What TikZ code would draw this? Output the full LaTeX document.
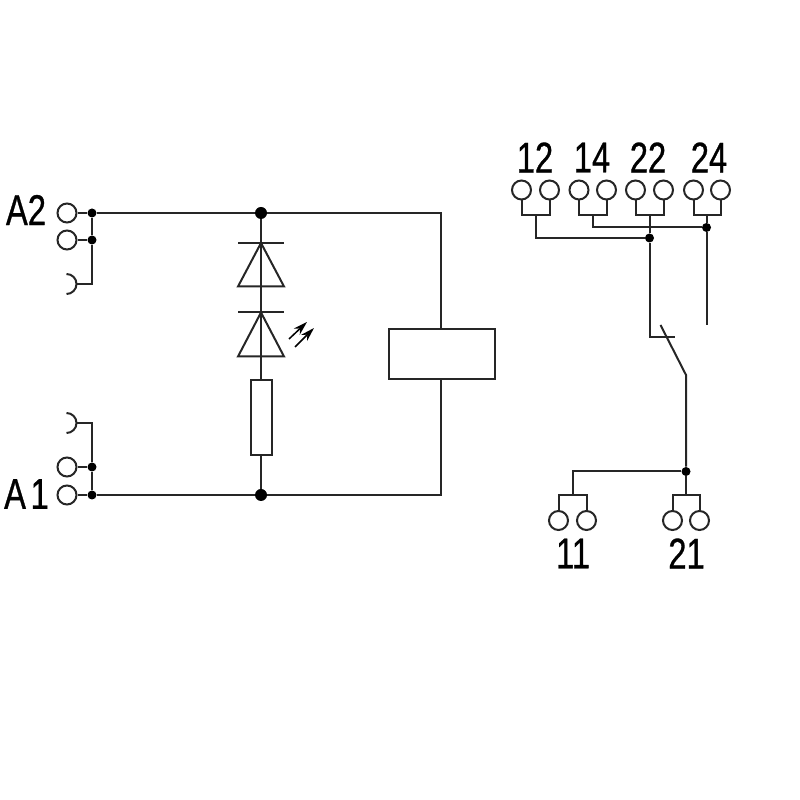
\documentclass[tikz,border=0pt]{standalone}
\usepackage{fontspec}
\setmainfont[FakeStretch=0.76,FakeBold=0.7]{Liberation Sans}
\usetikzlibrary{arrows.meta}
\tikzset{
  wire/.style={line width=0.04cm, black!85},
  terminal/.style={draw, circle, line width=0.04cm, black!85, minimum size=0.38cm, inner sep=0pt},
  dot/.style={circle, fill=black, minimum size=0.18cm, inner sep=0pt},
  bigdot/.style={circle, fill=black, minimum size=0.24cm, inner sep=0pt},
  part/.style={draw, rectangle, line width=0.04cm, black!85, inner sep=0pt},
  pinlabel/.style={font=\fontsize{24.5}{26}\selectfont, inner sep=0pt},
  lightarrow/.style={line width=0.03cm, black, -{Stealth[length=0.28cm, width=0.17cm]}}
}
\begin{document}
\begin{tikzpicture}
\useasboundingbox (0,0) rectangle (16,16);

% Coil side labels
\node[pinlabel] (labA2) at (0.52,11.8) {A2};
\node[pinlabel] (labA1) at (0.53,6.12) {A\hspace{-2.5pt} 1};

% Coil side terminals
\node[terminal] (a2top) at (1.34,11.74) {};
\node[terminal] (a2low) at (1.34,11.2) {};
\node[terminal] (a1top) at (1.34,6.66) {};
\node[terminal] (a1low) at (1.34,6.1) {};
\coordinate (hookA2) at (1.53,10.32);
\coordinate (hookA1) at (1.53,7.54);
\draw[wire] (1.33,10.52) arc (90:-90:0.2);
\draw[wire] (1.33,7.74) arc (90:-90:0.2);

% Junctions
\node[dot] (jA2top) at (1.84,11.74) {};
\node[dot] (jA2low) at (1.84,11.2) {};
\node[dot] (jA1top) at (1.84,6.66) {};
\node[dot] (jA1low) at (1.84,6.1) {};
\node[bigdot] (jTop) at (5.22,11.74) {};
\node[bigdot] (jBot) at (5.22,6.1) {};
\coordinate (cornerTop) at (8.82,11.74);
\coordinate (cornerBot) at (8.82,6.1);

% Coil and resistor
\node[part, minimum width=2.12cm, minimum height=1cm] (coil) at (8.84,8.92) {};
\node[part, minimum width=0.42cm, minimum height=1.5cm] (res) at (5.22,7.65) {};

% Connections
\draw[wire] (a2top) -- (jA2top);
\draw[wire] (a2low) -- (jA2low);
\draw[wire] (a1top) -- (jA1top);
\draw[wire] (a1low) -- (jA1low);
\draw[wire] (jA2top) -- (jTop) -- (cornerTop) -- (coil.north -| cornerTop);
\draw[wire] (jA1low) -- (jBot) -- (cornerBot) -- (coil.south -| cornerBot);
\draw[wire] (jA2top) -- (jA2low) |- (hookA2);
\draw[wire] (jA1low) -- (jA1top) |- (hookA1);
\draw[wire] (jTop) -- (res.north);
\draw[wire] (res.south) -- (jBot);

% Diodes
\draw[wire] (4.76,11.14) -- (5.68,11.14);
\draw[wire] (5.22,11.14) -- (5.68,10.27) -- (4.76,10.27) -- cycle;
\draw[wire] (4.76,9.75) -- (5.68,9.75);
\draw[wire] (5.22,9.75) -- (5.68,8.87) -- (4.76,8.87) -- cycle;
\draw[lightarrow] (5.78,9.22) -- (6.14,9.56);
\draw[lightarrow] (5.9,9.06) -- (6.28,9.44);

% Contact side labels
\node[pinlabel] (lab12) at (10.7,12.85) {12};
\node[pinlabel] (lab14) at (11.84,12.85) {14};
\node[pinlabel] (lab22) at (12.96,12.85) {22};
\node[pinlabel] (lab24) at (14.18,12.85) {24};
\node[pinlabel] (lab11) at (11.46,4.93) {11};
\node[pinlabel] (lab21) at (13.73,4.93) {21};

% Contact side terminals
\node[terminal] (t12a) at (10.43,12.2) {};
\node[terminal] (t12b) at (10.99,12.2) {};
\node[terminal] (t14a) at (11.58,12.2) {};
\node[terminal] (t14b) at (12.13,12.2) {};
\node[terminal] (t22a) at (12.71,12.2) {};
\node[terminal] (t22b) at (13.27,12.2) {};
\node[terminal] (t24a) at (13.87,12.2) {};
\node[terminal] (t24b) at (14.41,12.2) {};
\node[terminal] (t11a) at (11.17,5.59) {};
\node[terminal] (t11b) at (11.73,5.59) {};
\node[terminal] (t21a) at (13.45,5.59) {};
\node[terminal] (t21b) at (13.99,5.59) {};

% Brackets
\coordinate (b12) at (10.71,11.7);
\coordinate (b14) at (11.85,11.7);
\coordinate (b22) at (12.99,11.7);
\coordinate (b24) at (14.13,11.69);
\coordinate (b11) at (11.45,6.1);
\coordinate (b21) at (13.72,6.1);
\draw[wire] (t12a.south) |- (b12) -| (t12b.south);
\draw[wire] (t14a.south) |- (b14) -| (t14b.south);
\draw[wire] (t22a.south) |- (b22) -| (t22b.south);
\draw[wire] (t24a.south) |- (b24) -| (t24b.south);
\draw[wire] (t11a.north) |- (b11) -| (t11b.north);
\draw[wire] (t21a.north) |- (b21) -| (t21b.north);

% Contact wiring
\node[dot] (j22) at (12.99,11.24) {};
\node[dot] (j24) at (14.13,11.45) {};
\node[dot] (jCom) at (13.72,6.57) {};
\coordinate (nc) at (12.99,9.26);
\coordinate (ncEnd) at (13.5,9.26);
\coordinate (noEnd) at (14.13,9.5);
\coordinate (swTop) at (13.21,9.5);
\coordinate (swBot) at (13.72,8.5);
\draw[wire] (b12) |- (j22);
\draw[wire] (b14) |- (j24);
\draw[wire] (b22) -- (j22) -- (nc) -- (ncEnd);
\draw[wire] (b24) -- (j24) -- (noEnd);
\draw[wire] (swTop) -- (swBot) -- (jCom);
\draw[wire] (jCom) -| (b11);
\draw[wire] (jCom) -- (b21);
\end{tikzpicture}
\end{document}
